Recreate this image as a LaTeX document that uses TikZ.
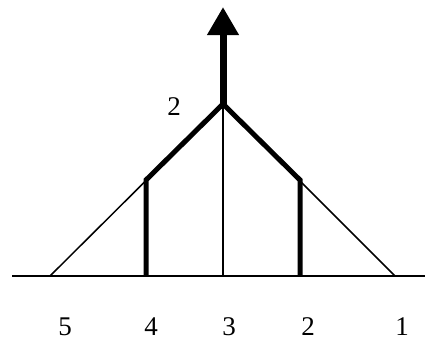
\documentclass[tikz,border=0pt]{standalone}
\usepackage{fontspec}
\setmainfont{Liberation Serif}
\usetikzlibrary{arrows.meta}
\begin{document}
\begin{tikzpicture}[x=1pt,y=-1pt,
  thinline/.style={line width=1.5pt},
  thickline/.style={line width=5pt},
  shaftline/.style={line width=7pt,-{Triangle[length=28pt,width=30pt]}},
  lbl/.style={font=\fontsize{27}{31}\selectfont,inner sep=0pt}]
\useasboundingbox (0,0) rectangle (425,341);
\coordinate (L) at (12,276);
\coordinate (R) at (425,276);
\coordinate (p5) at (50,276);
\coordinate (p4) at (146,276);
\coordinate (p3) at (223,276);
\coordinate (p2) at (300,276);
\coordinate (p1) at (395,276);
\coordinate (top) at (223,104);
\coordinate (k4) at (146,180);
\coordinate (k2) at (300,180);
\coordinate (tip) at (223,7);
\draw[thinline] (L) -- (R);
\draw[thinline] (p5) -- (top) -- (p1);
\draw[thinline] (top) -- (p3);
\draw[thickline,line join=miter] (p4) -- (k4) -- (top) -- (k2) -- (p2);
\draw[shaftline] (top) -- (tip);
\node[lbl] (t5) at (65,327) {5};
\node[lbl] (t4) at (151,327) {4};
\node[lbl] (t3) at (229,327) {3};
\node[lbl] (t2) at (308,327) {2};
\node[lbl] (t1) at (402,327) {1};
\node[lbl] (tt) at (174,107) {2};
\end{tikzpicture}
\end{document}
